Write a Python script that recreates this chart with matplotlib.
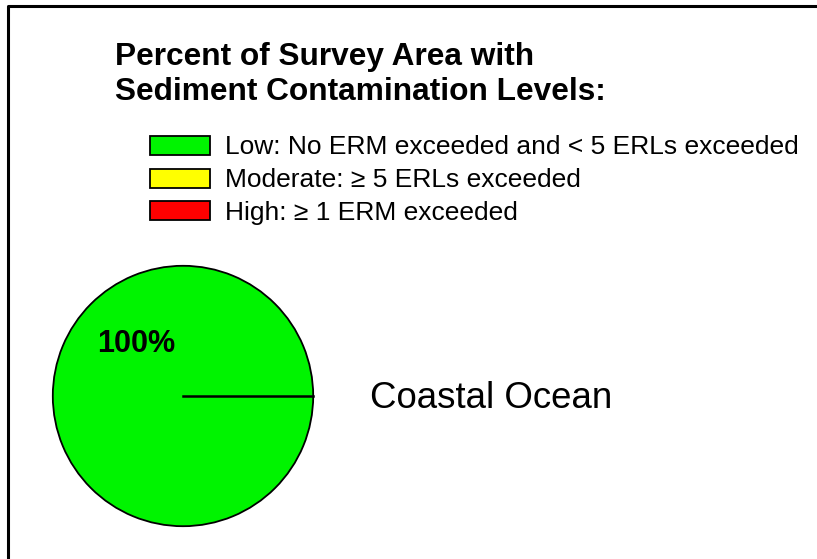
import matplotlib.pyplot as plt
from matplotlib.patches import Rectangle

plt.rcParams['font.family'] = ['Liberation Sans', 'DejaVu Sans']

# data
title_lines = ["Percent of Survey Area with", "Sediment Contamination Levels:"]
levels = ["Low: No ERM exceeded and < 5 ERLs exceeded",
          "Moderate: \u2265 5 ERLs exceeded",
          "High: \u2265 1 ERM exceeded"]
level_colors = ["#00f400", "#ffff00", "#ff0000"]
region = "Coastal Ocean"
region_pcts = [100, 0, 0]   # low, moderate, high

W, H = 817, 559
fig = plt.figure(figsize=(W / 100, H / 100), dpi=100)

# background axes in pixel units
ax = fig.add_axes([0, 0, 1, 1])
ax.set_xlim(0, W)
ax.set_ylim(H, 0)
ax.axis('off')

# frame (top and left edges visible)
ax.plot([8.5, 8.5, W], [H, 5.5, 5.5], color='black', lw=2.2, solid_capstyle='butt')

# title
for i, line in enumerate(title_lines):
    ax.text(115, 65 + i * 35, line, fontsize=22.8, fontweight='bold', va='baseline', ha='left')

# legend boxes
for i, (lab, col) in enumerate(zip(levels, level_colors)):
    y = 145.5 + i * 32.7
    ax.add_patch(Rectangle((150, y - 9.5), 60, 19, facecolor=col, edgecolor='black', lw=1.3))
    ax.text(225, y + 9, lab, fontsize=19, va='baseline', ha='left')

# region label
ax.text(370, 408, region, fontsize=26.4, va='baseline', ha='left')

# pie
cx, cy, r = 183, 396, 131.5
pax = fig.add_axes([(cx - r) / W, (H - cy - r) / H, 2 * r / W, 2 * r / H])
vals = [v for v in region_pcts if v > 0]
cols = [c for v, c in zip(region_pcts, level_colors) if v > 0]
pax.pie(vals, colors=cols, startangle=-48, autopct='%d%%', pctdistance=0.54,
        wedgeprops=dict(edgecolor='black', linewidth=1.3),
        textprops=dict(fontsize=22, fontweight='bold'))
pax.plot([0, 1], [0, 0], color='black', lw=1.8)
pax.set_xlim(-1.01, 1.01)
pax.set_ylim(-1.01, 1.01)
pax.axis('off')

fig.savefig('out.png', dpi=100)
